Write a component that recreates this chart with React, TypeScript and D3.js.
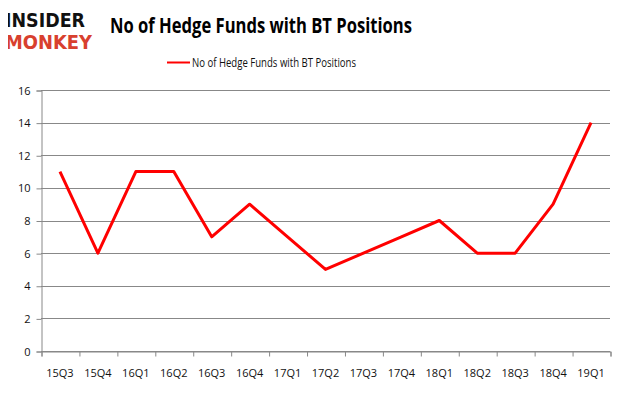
import React, { useEffect, useRef } from "react";
import * as d3 from "d3";

const quarters = [
  "15Q3", "15Q4", "16Q1", "16Q2", "16Q3", "16Q4", "17Q1", "17Q2",
  "17Q3", "17Q4", "18Q1", "18Q2", "18Q3", "18Q4", "19Q1",
];
const fundCounts = [11, 6, 11, 11, 7, 9, 7, 5, 6, 7, 8, 6, 6, 9, 14];
const yTicks = [0, 2, 4, 6, 8, 10, 12, 14, 16];

const seriesName = "No of Hedge Funds with BT Positions";

const App: React.FC = () => {
  const svgRef = useRef<SVGSVGElement | null>(null);

  const width = 626;
  const height = 397;
  const margin = { top: 90, right: 16, bottom: 46, left: 41 };

  useEffect(() => {
    const svg = d3.select(svgRef.current);
    svg.selectAll("*").remove();

    const font = "'Open Sans', sans-serif";

    // outer frame
    svg
      .append("rect")
      .attr("x", 0.5)
      .attr("y", 0.5)
      .attr("width", width - 2)
      .attr("height", height - 2)
      .attr("fill", "white")
      .attr("stroke", "#888")
      .attr("stroke-width", 1);

    const x = d3
      .scaleBand()
      .domain(quarters)
      .range([margin.left, width - margin.right]);

    const y = d3
      .scaleLinear()
      .domain([0, 16])
      .range([height - margin.bottom, margin.top]);

    // grid lines
    svg
      .append("g")
      .selectAll("line")
      .data(yTicks)
      .enter()
      .append("line")
      .attr("x1", margin.left)
      .attr("x2", width - margin.right)
      .attr("y1", (d) => Math.round(y(d)) + 0.5)
      .attr("y2", (d) => Math.round(y(d)) + 0.5)
      .attr("stroke", "#888")
      .attr("stroke-width", 1);

    // y axis
    const yAxis = d3
      .axisLeft(y)
      .tickValues(yTicks)
      .tickSize(5)
      .tickPadding(6)
      .tickFormat(d3.format("d"));

    svg
      .append("g")
      .attr("transform", `translate(${margin.left + 0.5},0.5)`)
      .call(yAxis)
      .call((g) => g.selectAll("line,path").attr("stroke", "#888"))
      .call((g) =>
        g
          .selectAll("text")
          .attr("font-family", font)
          .attr("font-size", 11)
          .attr("fill", "#111")
      );

    // x axis
    const xAxis = d3
      .axisBottom(
        d3.scaleLinear().domain([0, quarters.length]).range([margin.left, width - margin.right])
      )
      .tickValues(d3.range(quarters.length + 1))
      .tickSize(5)
      .tickFormat(() => "");

    svg
      .append("g")
      .attr("transform", `translate(0.5,${height - margin.bottom + 0.5})`)
      .call(xAxis)
      .call((g) => g.selectAll("line,path").attr("stroke", "#888"));

    svg
      .append("g")
      .selectAll("text")
      .data(quarters)
      .enter()
      .append("text")
      .attr("x", (d) => (x(d) as number) + x.bandwidth() / 2)
      .attr("y", height - margin.bottom + 26)
      .attr("text-anchor", "middle")
      .attr("font-family", font)
      .attr("font-size", 11)
      .attr("fill", "#111")
      .text((d) => d);

    // line
    const line = d3
      .line<number>()
      .x((d, i) => (x(quarters[i]) as number) + x.bandwidth() / 2)
      .y((d) => y(d));

    svg
      .append("path")
      .datum(fundCounts)
      .attr("d", line)
      .attr("fill", "none")
      .attr("stroke", "#ff0000")
      .attr("stroke-width", 3)
      .attr("stroke-linejoin", "round");

    // title
    svg
      .append("text")
      .attr("x", 110)
      .attr("y", 33)
      .attr("font-family", font)
      .attr("font-weight", "bold")
      .attr("font-size", 21)
      .attr("textLength", 302)
      .attr("lengthAdjust", "spacingAndGlyphs")
      .attr("fill", "#000")
      .text(seriesName);

    // legend
    svg
      .append("line")
      .attr("x1", 167)
      .attr("x2", 190)
      .attr("y1", 62.5)
      .attr("y2", 62.5)
      .attr("stroke", "#ff0000")
      .attr("stroke-width", 2);

    svg
      .append("text")
      .attr("x", 192)
      .attr("y", 67)
      .attr("font-family", font)
      .attr("font-size", 12)
      .attr("textLength", 164)
      .attr("lengthAdjust", "spacingAndGlyphs")
      .attr("fill", "#111")
      .text(seriesName);

    // logo
    svg
      .append("text")
      .attr("x", 5)
      .attr("y", 27)
      .attr("font-family", "'DejaVu Sans', sans-serif")
      .attr("font-weight", "bold")
      .attr("font-size", 20)
      .attr("textLength", 80)
      .attr("lengthAdjust", "spacingAndGlyphs")
      .attr("fill", "#111")
      .text("INSIDER");

    svg
      .append("text")
      .attr("x", 5)
      .attr("y", 49)
      .attr("font-family", "'DejaVu Sans', sans-serif")
      .attr("font-weight", "bold")
      .attr("font-size", 20)
      .attr("textLength", 87)
      .attr("lengthAdjust", "spacingAndGlyphs")
      .attr("fill", "#d8402e")
      .text("MONKEY");
  }, []);

  return (
    <div style={{ margin: -8 }}>
      <svg ref={svgRef} width={width} height={height} style={{ display: "block" }}></svg>
    </div>
  );
};

export default App;
